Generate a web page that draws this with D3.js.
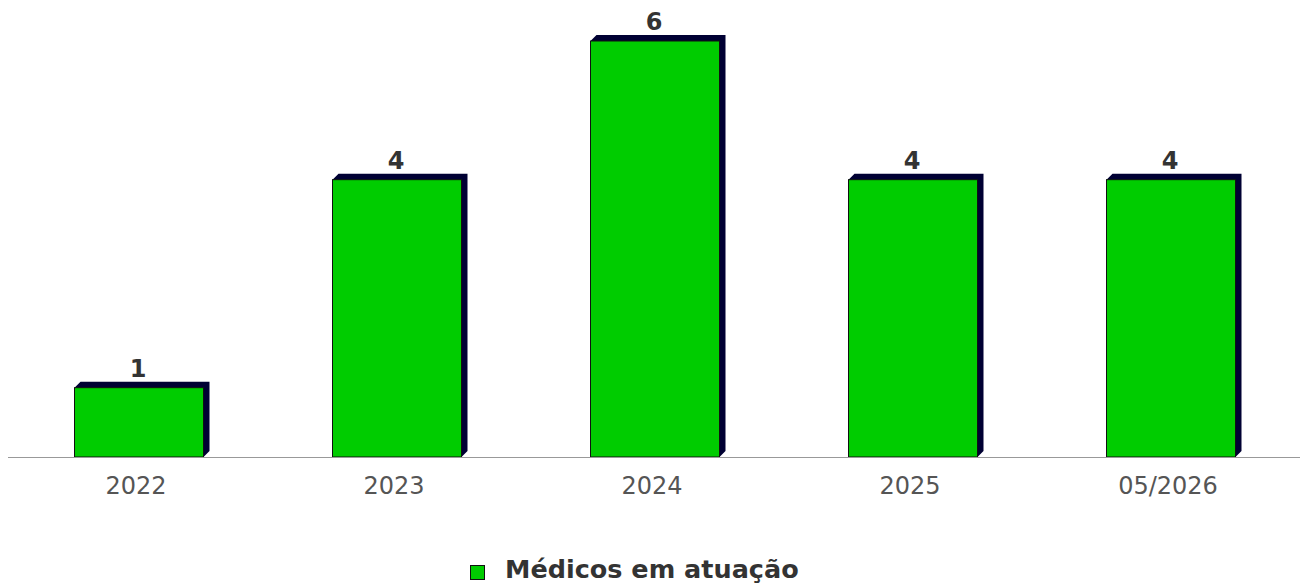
<!DOCTYPE html>
<html><head><meta charset="utf-8">
<script src="https://cdn.jsdelivr.net/npm/d3@7"></script>
<style>html,body{margin:0;padding:0;background:#fff;}svg{display:block;}</style>
</head><body>
<svg id="c" width="1303" height="584"></svg>
<script>
const categories = ["2022", "2023", "2024", "2025", "05/2026"];
const values = [1, 4, 6, 4, 4];
const seriesName = "Médicos em atuação";

const svg = d3.select("#c");
const base = 457, topY = 41;
const x = d3.scaleBand().domain(categories).range([10, 1300]).paddingInner(0.5).paddingOuter(0.25);
const y = d3.scaleLinear().domain([0, 6]).range([base, topY]);
const dx = 6, dy = 6;

const g = svg.append("g");
const bars = g.selectAll("g.bar").data(categories.map((c, i) => ({c, v: values[i]}))).join("g");
bars.append("path")
  .attr("fill", "#000033")
  .attr("d", d => {
    const x0 = x(d.c), w = x.bandwidth(), t = y(d.v);
    return `M${x0},${t} L${x0+dx},${t-dy} L${x0+w+dx},${t-dy} L${x0+w+dx},${base-dy} L${x0+w},${base} Z`;
  });
bars.append("rect")
  .attr("x", d => x(d.c)).attr("y", d => y(d.v))
  .attr("width", x.bandwidth()).attr("height", d => base - y(d.v))
  .attr("fill", "#00cc00").attr("stroke", "#111").attr("stroke-width", 1);
bars.append("text")
  .attr("x", d => x(d.c) + x.bandwidth()/2 - 1)
  .attr("y", d => y(d.v) - 11)
  .attr("text-anchor", "middle")
  .attr("font-family", "DejaVu Sans").attr("font-weight", "bold").attr("font-size", 24)
  .attr("fill", "#333").text(d => d.v);

// axis
const ax = svg.append("g").attr("transform", `translate(0,${base})`)
  .call(d3.axisBottom(x).tickSize(0).tickPadding(0));
ax.select(".domain").attr("stroke", "#999").attr("d", "M8,0.5H1300");
ax.selectAll(".tick text").attr("dy", null).attr("y", 37).attr("x", -3)
  .attr("font-family", "DejaVu Sans").attr("font-size", 24).attr("fill", "#555");

// legend
const lg = svg.append("g").attr("transform", "translate(470,565)");
lg.append("rect").attr("x", 0.5).attr("y", 0.5).attr("width", 14).attr("height", 14)
  .attr("fill", "#00cc00").attr("stroke", "#111");
lg.append("text").attr("x", 35).attr("y", 13)
  .attr("font-family", "DejaVu Sans").attr("font-weight", "bold").attr("font-size", 25.5)
  .attr("fill", "#333").text(seriesName);
</script>
</body></html>
